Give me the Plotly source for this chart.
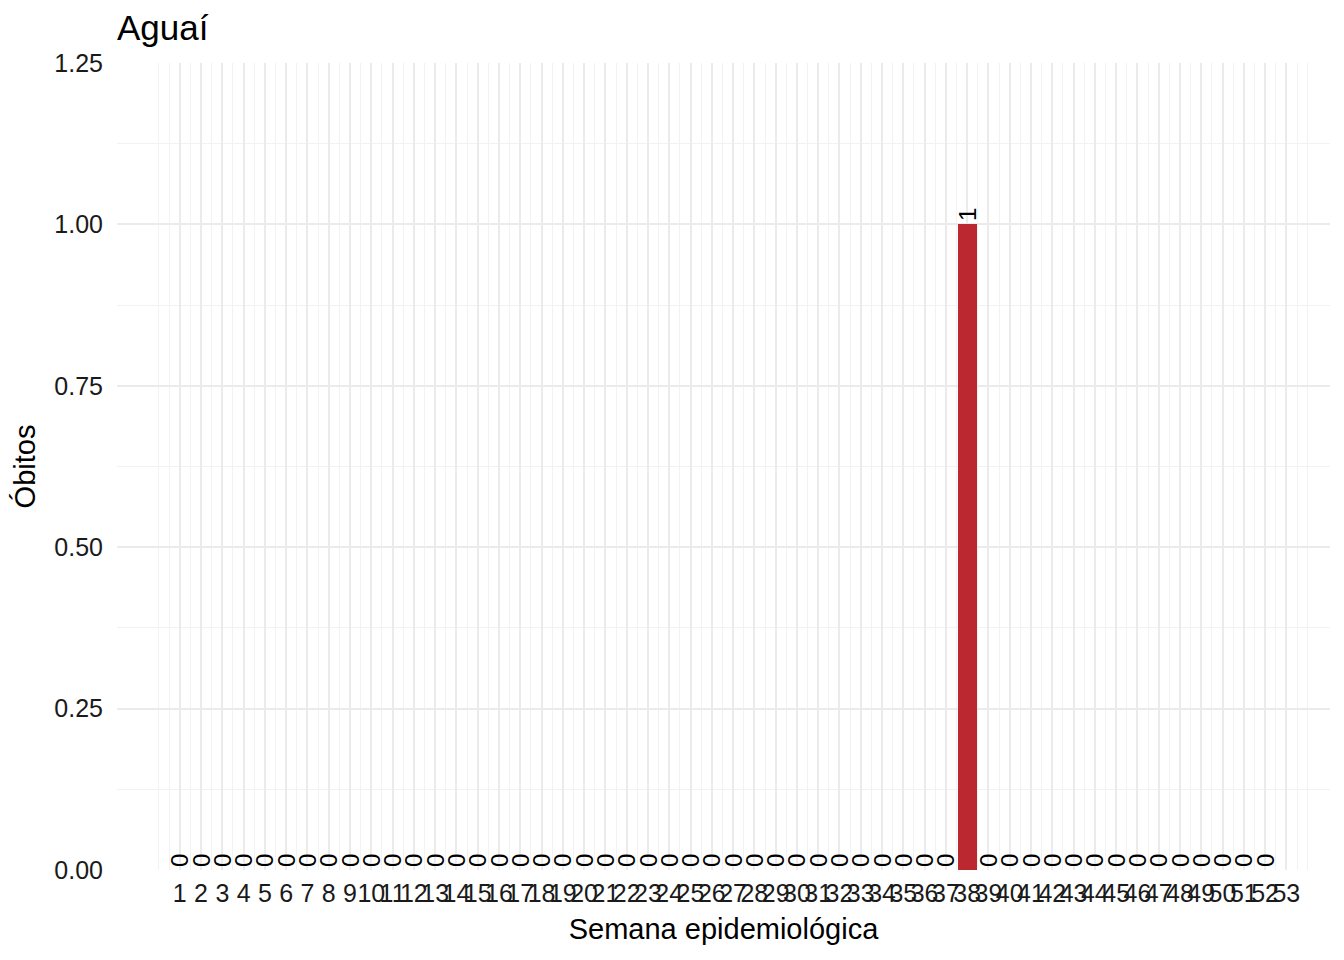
import plotly.graph_objects as go

# Óbitos por semana epidemiológica - Aguaí
semanas = list(range(1, 53))
obitos = [0] * 52
obitos[37] = 1  # semana 38

tick_semanas = list(range(1, 54))
tick_y = [0, 0.25, 0.5, 0.75, 1.0, 1.25]
tick_y_text = ["0.00", "0.25", "0.50", "0.75", "1.00", "1.25"]

bar_color = "#BB2830"
grid_major = "#EBEBEB"
grid_minor = "#F2F2F2"
font_family = "Liberation Sans, Arial, sans-serif"

# the page has an 8px body margin, so the figure is drawn a bit smaller
W, H = 1328, 944

fig = go.Figure()

fig.add_trace(
    go.Bar(
        x=semanas,
        y=obitos,
        width=0.9,
        marker_color=bar_color,
        marker_line_width=0,
        text=[str(v) for v in obitos],
        textposition="outside",
        textangle=-90,
        constraintext="none",
        cliponaxis=False,
        outsidetextfont=dict(family=font_family, size=24, color="black"),
        hoverinfo="x+y",
    )
)

# grid lines every half week, from week 0 to 54
minor_x = [i / 2 for i in range(0, 109) if i % 2 == 1] + [0, 54]
minor_y = [0.125, 0.375, 0.625, 0.875, 1.125]

fig.update_layout(
    width=W,
    height=H,
    plot_bgcolor="white",
    paper_bgcolor="white",
    showlegend=False,
    bargap=0,
    margin=dict(l=109, r=6, t=55, b=82),
    font=dict(family=font_family, color="black"),
    title=dict(
        text="Aguaí",
        x=109 / W,
        xref="container",
        xanchor="left",
        y=1 - 20 / H,
        yref="container",
        yanchor="middle",
        font=dict(size=35, color="black"),
    ),
)

fig.update_xaxes(
    range=[-1.95, 55.05],
    tickmode="array",
    tickvals=tick_semanas,
    ticktext=[str(s) for s in tick_semanas],
    tickangle=0,
    tickfont=dict(size=25, color="#1a1a1a"),
    ticks="",
    ticklabelstandoff=6,
    showgrid=True,
    gridcolor=grid_major,
    gridwidth=2,
    zeroline=False,
    showline=False,
    minor=dict(tickmode="array", tickvals=minor_x, showgrid=True,
               gridcolor=grid_minor, gridwidth=1),
    title=dict(text="Semana epidemiológica", font=dict(size=29), standoff=12),
)

fig.update_yaxes(
    range=[0, 1.25],
    tickmode="array",
    tickvals=tick_y,
    ticktext=tick_y_text,
    tickfont=dict(size=25, color="#1a1a1a"),
    ticks="",
    ticklabelstandoff=13,
    showgrid=True,
    gridcolor=grid_major,
    gridwidth=2,
    zeroline=False,
    showline=False,
    minor=dict(tickmode="array", tickvals=minor_y, showgrid=True,
               gridcolor=grid_minor, gridwidth=1),
    title=dict(text="Óbitos", font=dict(size=29), standoff=10),
)

fig.write_html("out.html")
